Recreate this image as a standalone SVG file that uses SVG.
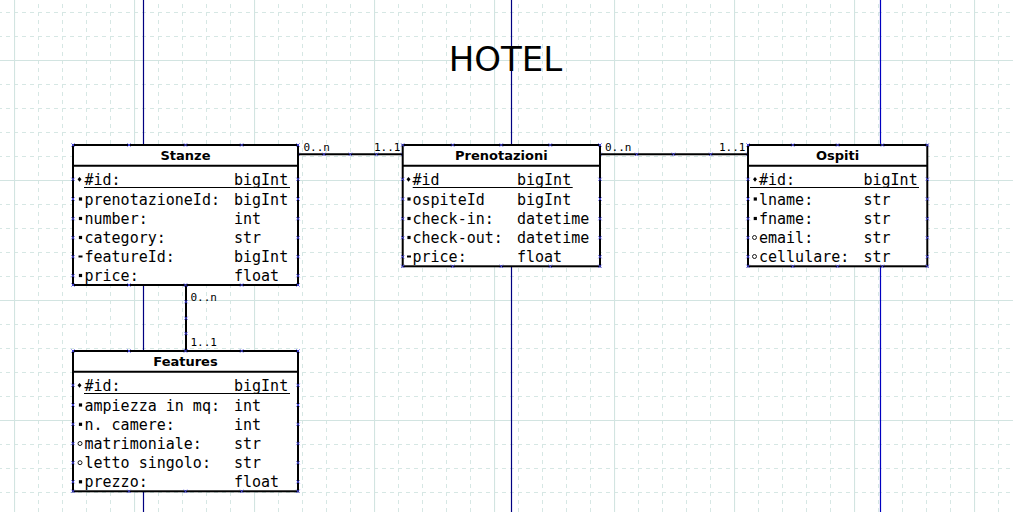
<svg xmlns="http://www.w3.org/2000/svg" xmlns:xlink="http://www.w3.org/1999/xlink" width="1013" height="512" viewBox="0 0 1013 512">
<style>
.minor{stroke:#d6e7e4;stroke-width:1;stroke-dasharray:4 4;fill:none}
.major{stroke:#d2e4e1;stroke-width:1.2;fill:none}
.tbl{fill:#fff;stroke:#000;stroke-width:2}
.sep{stroke:#000;stroke-width:2}
.ul{stroke:#000;stroke-width:1}
.ttl{font-family:"DejaVu Sans","Liberation Sans",sans-serif;font-weight:bold;font-size:13px;fill:#000;text-anchor:middle}
.att{font-family:"DejaVu Sans Mono","Liberation Mono",monospace;font-size:15px;fill:#000}
.lbl{font-family:"DejaVu Sans Mono","Liberation Mono",monospace;font-size:11px;fill:#000}
.conn{stroke:#000;stroke-width:2;fill:none}
.cp{stroke:#4646e6;stroke-width:0.9;fill:none}
</style>
<defs>
<pattern id="gmin" x="14" y="12" width="24" height="24" patternUnits="userSpaceOnUse">
<path class="minor" d="M0.5 0V24M0 0.5H24"/>
</pattern>
<pattern id="gmaj" x="14" y="60" width="120" height="120" patternUnits="userSpaceOnUse">
<path class="major" d="M0.5 0V120M0 0.5H120"/>
</pattern>
<path id="cp" class="cp" d="M-1.6-1.6L1.6 1.6M-1.6 1.6L1.6-1.6"/>
<path id="mkey" d="M0-2.4L2 0L0 2.4L-2 0Z" fill="#000"/>
<rect id="mreq" x="-1.6" y="-1.6" width="3.2" height="3.2" fill="#000"/>
<rect id="mdash" x="-2" y="-1" width="4" height="2" fill="#000"/>
<circle id="mopt" r="2" fill="#fff" stroke="#000" stroke-width="0.9"/>
</defs>

<g id="background">
<rect width="1013" height="512" fill="#fff"/>
<rect width="1013" height="512" fill="url(#gmin)"/>
<rect width="1013" height="512" fill="url(#gmaj)"/>
<line x1="143.5" y1="0" x2="143.5" y2="512" stroke="#000080" stroke-width="1.2"/>
<line x1="511.5" y1="0" x2="511.5" y2="512" stroke="#000080" stroke-width="1.2"/>
<line x1="880.5" y1="0" x2="880.5" y2="512" stroke="#0000c0" stroke-width="1.2"/>
</g>

<g id="title">
<text x="505.5" y="71" font-family="DejaVu Sans, Liberation Sans, sans-serif" font-size="34" text-anchor="middle" fill="#000">HOTEL</text>
</g>

<g id="connectors">
<g id="c-stanze-prenotazioni">
<line class="conn" x1="298" y1="154.3" x2="402.7" y2="154.3"/>
<text class="lbl" x="303.5" y="151">0..n</text>
<text class="lbl" x="400.5" y="151" text-anchor="end">1..1</text>
<use href="#cp" x="298" y="154.3"/><use href="#cp" x="324" y="154.3"/><use href="#cp" x="350.3" y="154.3"/><use href="#cp" x="376.5" y="154.3"/><use href="#cp" x="402.7" y="154.3"/>
</g>
<g id="c-prenotazioni-ospiti">
<line class="conn" x1="600" y1="154.3" x2="748" y2="154.3"/>
<text class="lbl" x="605" y="151">0..n</text>
<text class="lbl" x="745.5" y="151" text-anchor="end">1..1</text>
<use href="#cp" x="600" y="154.3"/><use href="#cp" x="636.7" y="154.3"/><use href="#cp" x="673.5" y="154.3"/><use href="#cp" x="710.7" y="154.3"/><use href="#cp" x="748" y="154.3"/>
</g>
<g id="c-stanze-features">
<line class="conn" x1="186" y1="285" x2="186" y2="351"/>
<text class="lbl" x="190.5" y="300.5">0..n</text>
<text class="lbl" x="190.5" y="345.5">1..1</text>
<use href="#cp" x="186" y="285"/><use href="#cp" x="186" y="301.7"/><use href="#cp" x="186" y="318.3"/><use href="#cp" x="186" y="333.5"/><use href="#cp" x="186" y="351"/>
</g>
</g>

<g id="stanze">
<rect class="tbl" x="73" y="145" width="225" height="140"/>
<line class="sep" x1="73" y1="165.7" x2="298" y2="165.7"/>
<text class="ttl" x="185.5" y="160">Stanze</text>
<line class="ul" x1="84" y1="187.5" x2="290" y2="187.5"/>
<use href="#mkey" x="79.5" y="179.3"/><use href="#mreq" x="80.5" y="199"/><use href="#mreq" x="80.5" y="218.5"/><use href="#mreq" x="80.5" y="237.5"/><use href="#mdash" x="80.5" y="256.5"/><use href="#mreq" x="80.5" y="275.5"/>
<text class="att" x="84.5" y="185">#id:</text><text class="att" x="234" y="185">bigInt</text>
<text class="att" x="84.5" y="204.5">prenotazioneId:</text><text class="att" x="234" y="204.5">bigInt</text>
<text class="att" x="84.5" y="224">number:</text><text class="att" x="234" y="224">int</text>
<text class="att" x="84.5" y="243">category:</text><text class="att" x="234" y="243">str</text>
<text class="att" x="84.5" y="262">featureId:</text><text class="att" x="234" y="262">bigInt</text>
<text class="att" x="84.5" y="281">price:</text><text class="att" x="234" y="281">float</text>
<g>
<use href="#cp" x="73" y="145"/><use href="#cp" x="129" y="145"/><use href="#cp" x="185.5" y="145"/><use href="#cp" x="241.7" y="145"/><use href="#cp" x="298" y="145"/>
<use href="#cp" x="73" y="285"/><use href="#cp" x="129" y="285"/><use href="#cp" x="185.5" y="285"/><use href="#cp" x="241.7" y="285"/><use href="#cp" x="298" y="285"/>
<use href="#cp" x="73" y="179.3"/><use href="#cp" x="73" y="199"/><use href="#cp" x="73" y="218.7"/><use href="#cp" x="73" y="237.7"/><use href="#cp" x="73" y="256.7"/><use href="#cp" x="73" y="275.7"/>
<use href="#cp" x="298" y="179.3"/><use href="#cp" x="298" y="199"/><use href="#cp" x="298" y="218.7"/><use href="#cp" x="298" y="237.7"/><use href="#cp" x="298" y="256.7"/><use href="#cp" x="298" y="275.7"/>
</g>
</g>

<g id="prenotazioni">
<rect class="tbl" x="402.7" y="145" width="197.3" height="121.3"/>
<line class="sep" x1="402.7" y1="165.7" x2="600" y2="165.7"/>
<text class="ttl" x="501.3" y="160">Prenotazioni</text>
<line class="ul" x1="412.7" y1="187.5" x2="572.7" y2="187.5"/>
<use href="#mkey" x="408.5" y="179.3"/><use href="#mreq" x="409" y="199"/><use href="#mreq" x="409" y="218.5"/><use href="#mreq" x="409" y="237.5"/><use href="#mdash" x="409" y="256.5"/>
<text class="att" x="412.5" y="185">#id</text><text class="att" x="517" y="185">bigInt</text>
<text class="att" x="412.5" y="204.5">ospiteId</text><text class="att" x="517" y="204.5">bigInt</text>
<text class="att" x="412.5" y="224">check-in:</text><text class="att" x="517" y="224">datetime</text>
<text class="att" x="412.5" y="243">check-out:</text><text class="att" x="517" y="243">datetime</text>
<text class="att" x="412.5" y="262">price:</text><text class="att" x="517" y="262">float</text>
<g>
<use href="#cp" x="402.7" y="145"/><use href="#cp" x="452.7" y="145"/><use href="#cp" x="501.3" y="145"/><use href="#cp" x="550.3" y="145"/><use href="#cp" x="600" y="145"/>
<use href="#cp" x="402.7" y="266.3"/><use href="#cp" x="452.7" y="266.3"/><use href="#cp" x="501.3" y="266.3"/><use href="#cp" x="550.3" y="266.3"/><use href="#cp" x="600" y="266.3"/>
<use href="#cp" x="402.7" y="179.3"/><use href="#cp" x="402.7" y="199"/><use href="#cp" x="402.7" y="218.7"/><use href="#cp" x="402.7" y="237.7"/><use href="#cp" x="402.7" y="256.7"/>
<use href="#cp" x="600" y="179.3"/><use href="#cp" x="600" y="199"/><use href="#cp" x="600" y="218.7"/><use href="#cp" x="600" y="237.7"/><use href="#cp" x="600" y="256.7"/>
</g>
</g>

<g id="ospiti">
<rect class="tbl" x="748" y="145" width="179.3" height="121.3"/>
<line class="sep" x1="748" y1="165.7" x2="927.3" y2="165.7"/>
<text class="ttl" x="837.6" y="160">Ospiti</text>
<line class="ul" x1="750" y1="187.5" x2="919" y2="187.5"/>
<use href="#mkey" x="755" y="179.3"/><use href="#mreq" x="755.3" y="199"/><use href="#mreq" x="755.3" y="218.5"/><use href="#mopt" x="754.5" y="237.5"/><use href="#mopt" x="754.5" y="256.5"/>
<text class="att" x="759" y="185">#id:</text><text class="att" x="863.5" y="185">bigInt</text>
<text class="att" x="759" y="204.5">lname:</text><text class="att" x="863.5" y="204.5">str</text>
<text class="att" x="759" y="224">fname:</text><text class="att" x="863.5" y="224">str</text>
<text class="att" x="759" y="243">email:</text><text class="att" x="863.5" y="243">str</text>
<text class="att" x="759" y="262">cellulare:</text><text class="att" x="863.5" y="262">str</text>
<g>
<use href="#cp" x="748" y="145"/><use href="#cp" x="792.8" y="145"/><use href="#cp" x="837.6" y="145"/><use href="#cp" x="882.4" y="145"/><use href="#cp" x="927.3" y="145"/>
<use href="#cp" x="748" y="266.3"/><use href="#cp" x="792.8" y="266.3"/><use href="#cp" x="837.6" y="266.3"/><use href="#cp" x="882.4" y="266.3"/><use href="#cp" x="927.3" y="266.3"/>
<use href="#cp" x="748" y="179.3"/><use href="#cp" x="748" y="199"/><use href="#cp" x="748" y="218.7"/><use href="#cp" x="748" y="237.7"/><use href="#cp" x="748" y="256.7"/>
<use href="#cp" x="927.3" y="179.3"/><use href="#cp" x="927.3" y="199"/><use href="#cp" x="927.3" y="218.7"/><use href="#cp" x="927.3" y="237.7"/><use href="#cp" x="927.3" y="256.7"/>
</g>
</g>

<g id="features">
<rect class="tbl" x="73" y="351" width="225" height="140.3"/>
<line class="sep" x1="73" y1="371.7" x2="298" y2="371.7"/>
<text class="ttl" x="185.5" y="366">Features</text>
<line class="ul" x1="84" y1="393.5" x2="290" y2="393.5"/>
<use href="#mkey" x="79.5" y="385.3"/><use href="#mreq" x="80.5" y="405"/><use href="#mreq" x="80.5" y="424.3"/><use href="#mopt" x="80" y="443.5"/><use href="#mopt" x="80" y="462.7"/><use href="#mreq" x="80.5" y="481.8"/>
<text class="att" x="84.5" y="391">#id:</text><text class="att" x="234" y="391">bigInt</text>
<text class="att" x="84.5" y="410.5">ampiezza in mq:</text><text class="att" x="234" y="410.5">int</text>
<text class="att" x="84.5" y="430">n. camere:</text><text class="att" x="234" y="430">int</text>
<text class="att" x="84.5" y="449">matrimoniale:</text><text class="att" x="234" y="449">str</text>
<text class="att" x="84.5" y="468">letto singolo:</text><text class="att" x="234" y="468">str</text>
<text class="att" x="84.5" y="487">prezzo:</text><text class="att" x="234" y="487">float</text>
<g>
<use href="#cp" x="73" y="351"/><use href="#cp" x="129" y="351"/><use href="#cp" x="185.5" y="351"/><use href="#cp" x="241.7" y="351"/><use href="#cp" x="298" y="351"/>
<use href="#cp" x="73" y="491.3"/><use href="#cp" x="129" y="491.3"/><use href="#cp" x="185.5" y="491.3"/><use href="#cp" x="241.7" y="491.3"/><use href="#cp" x="298" y="491.3"/>
<use href="#cp" x="73" y="385.3"/><use href="#cp" x="73" y="405"/><use href="#cp" x="73" y="424.3"/><use href="#cp" x="73" y="443.5"/><use href="#cp" x="73" y="462.7"/><use href="#cp" x="73" y="481.8"/>
<use href="#cp" x="298" y="385.3"/><use href="#cp" x="298" y="405"/><use href="#cp" x="298" y="424.3"/><use href="#cp" x="298" y="443.5"/><use href="#cp" x="298" y="462.7"/><use href="#cp" x="298" y="481.8"/>
</g>
</g>
</svg>
